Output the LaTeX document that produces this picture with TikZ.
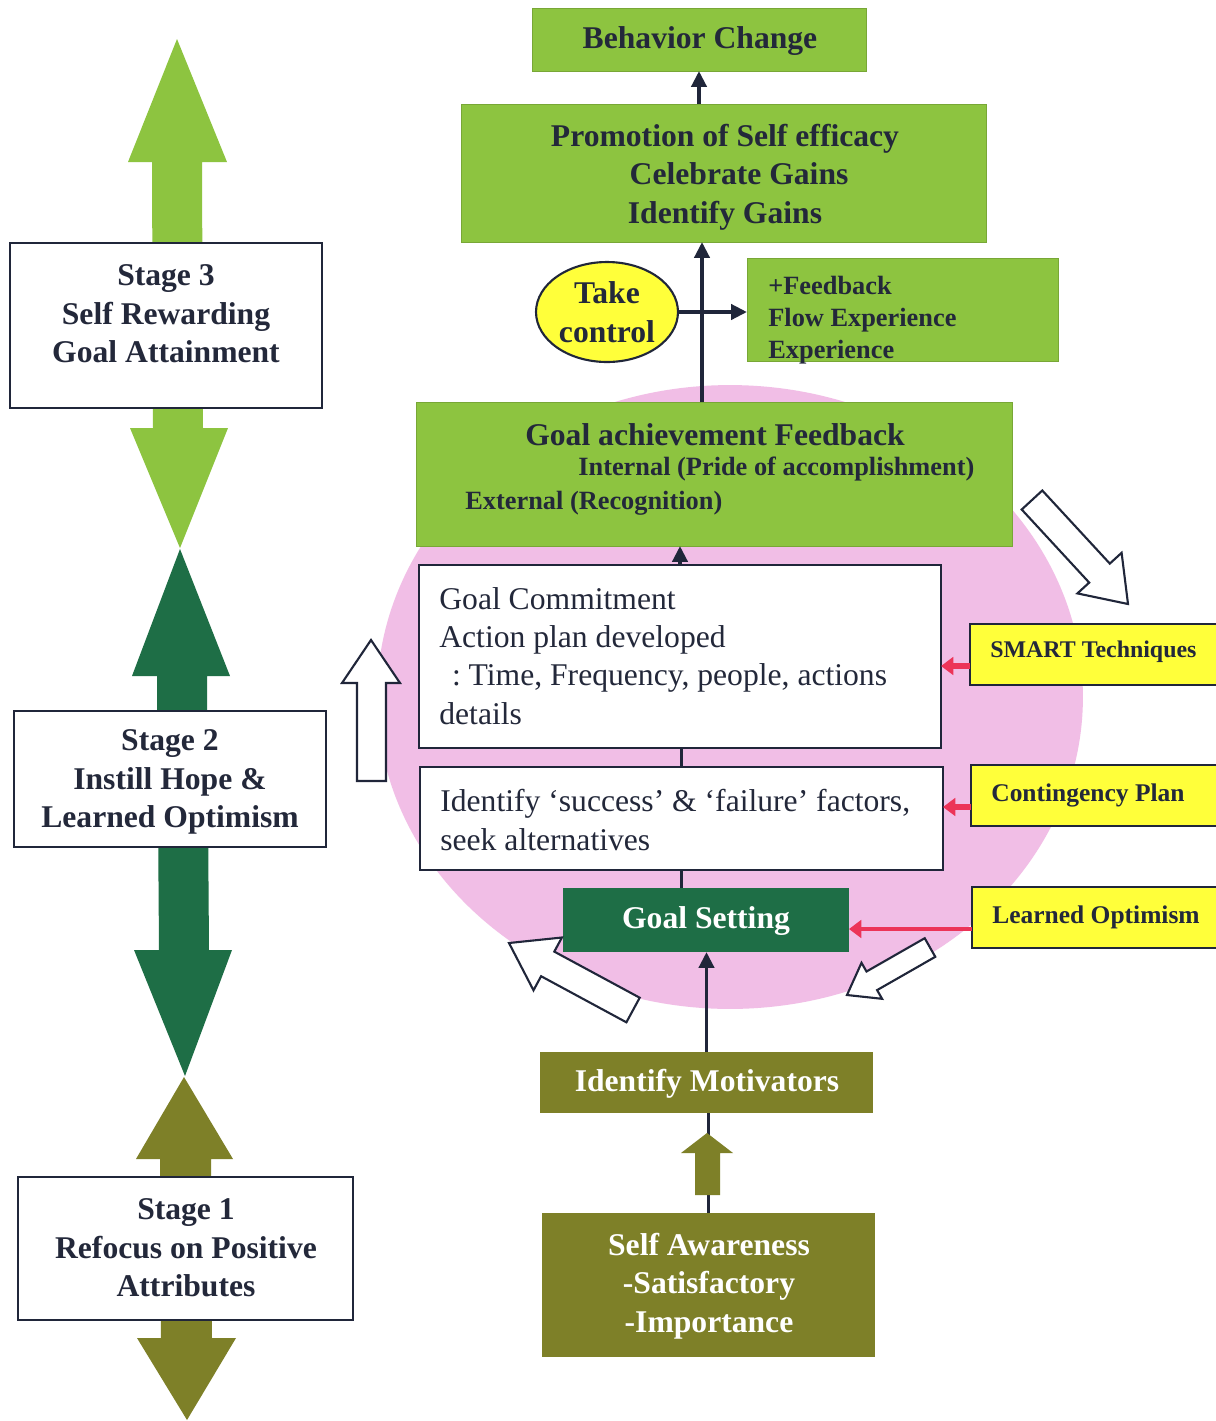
\documentclass[tikz,border=0pt]{standalone}
\usepackage{fontspec}
\setmainfont{Liberation Serif}
\usetikzlibrary{fit,shapes.geometric,arrows.meta}
\definecolor{lgreen}{RGB}{141,196,64}
\definecolor{dgreen}{RGB}{30,110,70}
\definecolor{olivec}{RGB}{126,128,40}
\definecolor{yel}{RGB}{255,255,58}
\definecolor{pinkc}{RGB}{241,190,230}
\definecolor{navy}{RGB}{32,38,58}
\definecolor{redc}{RGB}{236,52,88}
\definecolor{txt}{RGB}{35,40,58}
\begin{document}
\begin{tikzpicture}[x=0.02cm,y=-0.02cm,
  box/.style={inner sep=0pt, outer sep=0pt},
  gbox/.style={box, fill=lgreen, draw=lgreen!85!black, line width=0.4pt},
  wbox/.style={box, fill=white, draw=navy, line width=1.2pt},
  ybox/.style={box, fill=yel, draw=navy, line width=1.2pt},
  hd/.style={font={\fontsize{18}{22}\selectfont\bfseries}, text=txt, align=center},
  sub/.style={font={\fontsize{15}{18.2}\selectfont\bfseries}, text=txt, align=left, inner sep=0pt},
  wt/.style={font={\fontsize{18}{21.7}\selectfont}, text=txt, align=left, inner sep=0pt},
  yt/.style={font={\fontsize{14.5}{17}\selectfont\bfseries}, text=txt, inner sep=0pt},
  wht/.style={font={\fontsize{18}{21.8}\selectfont\bfseries}, text=white, align=center},
  conn/.style={draw=navy, line width=2.2pt, -{Triangle[length=9pt,width=8.5pt]}},
  plainline/.style={draw=navy, line width=2.2pt},
  redarrow/.style={draw=redc, line width=3pt, -{Triangle[length=7pt,width=10pt]}},
  hollow/.style={draw=navy, line width=1.2pt, fill=white, line join=miter},
]
\useasboundingbox (0,0) rectangle (1215,1421);
\fill[white] (0,0) rectangle (1215,1421);

% pink circle
\fill[pinkc] (730,697) ellipse [x radius=7.06cm, y radius=6.24cm];

% left column double arrows
\fill[lgreen] (177,39) -- (227,162) -- (202,162) -- (203,428) -- (228,428) -- (180,548)
  -- (130,428) -- (153,428) -- (152,162) -- (128,162) -- cycle;
\fill[dgreen] (180,549) -- (230,676) -- (207,676) -- (209,950) -- (232,950) -- (185,1076)
  -- (134,950) -- (159,950) -- (157,676) -- (132,676) -- cycle;
\fill[olivec] (184,1077) -- (233,1159) -- (211,1159) -- (212,1338) -- (236,1338) -- (187,1420)
  -- (137,1338) -- (161,1338) -- (160,1159) -- (136,1159) -- cycle;

% stage boxes
\node[wbox, fit={(10,243) (322,408)}] (s3) {};
\node[hd] (s3t) at (166,314) {Stage 3\\Self Rewarding\\Goal Attainment};
\node[wbox, fit={(14,711) (326,847)}] (s2) {};
\node[hd] (s2t) at (170,782) {Stage 2\\Instill Hope \&\\Learned Optimism};
\node[wbox, fit={(18,1177) (353,1320)}] (s1) {};
\node[hd] (s1t) at (186,1248) {Stage 1\\Refocus on Positive\\Attributes};

% top boxes
\node[gbox, fit={(532,8) (866,71)}] (bc) {};
\node[hd] (bct) at (700,41) {Behavior Change};
\node[gbox, fit={(461,104) (986,242)}] (pr) {};
\node[hd] (prt) at (725,177) {Promotion of Self efficacy\\\hspace*{16pt}Celebrate Gains\\Identify Gains};
\node[ellipse, fill=yel, draw=navy, line width=1.2pt, minimum width=2.84cm,
  minimum height=2cm, inner sep=0pt, hd] (tc) at (607,312) {Take\\control};
\node[gbox, fit={(747,258) (1058,361)}] (fb) {};
\node[sub, anchor=west] (fbt) at (768,320) {+Feedback\\Flow Experience\\Experience};

% goal achievement feedback
\node[gbox, fit={(416,402) (1012,546)}] (ga) {};
\node[hd] (gat) at (715,435) {Goal achievement Feedback};
\node[sub, anchor=west] (gai) at (578,469) {Internal (Pride of accomplishment)};
\node[sub, anchor=west] (gae) at (465,503) {External (Recognition)};

% white boxes
\node[wbox, fit={(419,565) (941,748)}] (gc) {};
\node[wt, anchor=west] (gct) at (439,656) {Goal Commitment\\Action plan developed\\\hspace*{0.4em}:\hspace{0.25em}Time, Frequency, people, actions\\details};
\node[wbox, fit={(420,767) (943,870)}] (id) {};
\node[wt, anchor=west] (idt) at (440,820) {Identify ‘success’ \& ‘failure’ factors,\\seek alternatives};

% goal setting, motivators, awareness
\node[box, fill=dgreen, fit={(563,888) (849,952)}] (gs) {};
\node[wht] (gst) at (706,921) {Goal Setting};
\node[box, fill=olivec, fit={(540,1052) (873,1113)}] (im) {};
\node[wht] (imt) at (707,1084) {Identify Motivators};
\node[box, fill=olivec, fit={(542,1213) (875,1357)}] (sa) {};
\node[wht] (sat) at (709,1286) {Self Awareness\\-Satisfactory\\-Importance};

% yellow boxes
\node[ybox, fit={(970,624) (1225,685)}] (sm) {};
\node[yt, anchor=west] (smt) at (990,652) {\fontsize{13.6}{16}\selectfont SMART Techniques};
\node[ybox, fit={(971,765) (1225,826)}] (cp) {};
\node[yt, anchor=west] (cpt) at (991,795) {Contingency Plan};
\node[ybox, fit={(972,887) (1225,948)}] (lo) {};
\node[yt, anchor=west] (lot) at (992,917) {Learned Optimism};

% connectors
\coordinate (vx) at (702,0);
\draw[conn] (pr.north -| bc.south) -- (bc.south);
\draw[conn] (ga.north -| vx) -- (pr.south -| vx);
\draw[conn] (tc.east) -- (tc.east -| fb.west);
\draw[conn] (gc.north) -- (gc.north |- ga.south);
\draw[plainline] (id.north) -- (id.north |- gc.south);
\draw[plainline] (id.south) -- (id.south |- gs.north);
\draw[conn] (im.north) -- (im.north |- gs.south);
\draw[plainline] (sa.north) -- (sa.north |- im.south);

% olive block arrow
\fill[olivec] (695,1195) -- (695,1153) -- (681,1153) -- (707,1133) -- (733,1153)
  -- (720,1153) -- (720,1195) -- cycle;

% red arrows
\draw[redarrow] ([yshift=-0.23cm]sm.west) -- ([yshift=-0.23cm]sm.west -| gc.east);
\draw[redarrow] ([yshift=-0.23cm]cp.west) -- ([yshift=-0.23cm]cp.west -| id.east);
\draw[redarrow, line width=2.6pt] ([yshift=-0.23cm]lo.west) -- ([yshift=-0.23cm]lo.west -| gs.east);

% hollow arrows
\draw[hollow] (357,781) -- (357,683) -- (342,683) -- (371,640) -- (400,683) -- (386,683) -- (386,781) -- cycle;
\draw[hollow] (1021.7,509.5) -- (1089.2,582.6) -- (1077.4,593.4) -- (1128,604) -- (1121.6,552.8)
  -- (1109.8,563.6) -- (1042.3,490.5) -- cycle;
\draw[hollow] (626.4,1022.3) -- (541.1,976.2) -- (533.5,990.3) -- (509,943) -- (561.9,937.5)
  -- (554.3,951.6) -- (639.7,997.7) -- cycle;
\draw[hollow] (924.7,938.2) -- (866.5,971.5) -- (861.5,962.8) -- (847,995) -- (882.1,998.8)
  -- (877.1,990.1) -- (935.3,956.8) -- cycle;
\end{tikzpicture}
\end{document}
